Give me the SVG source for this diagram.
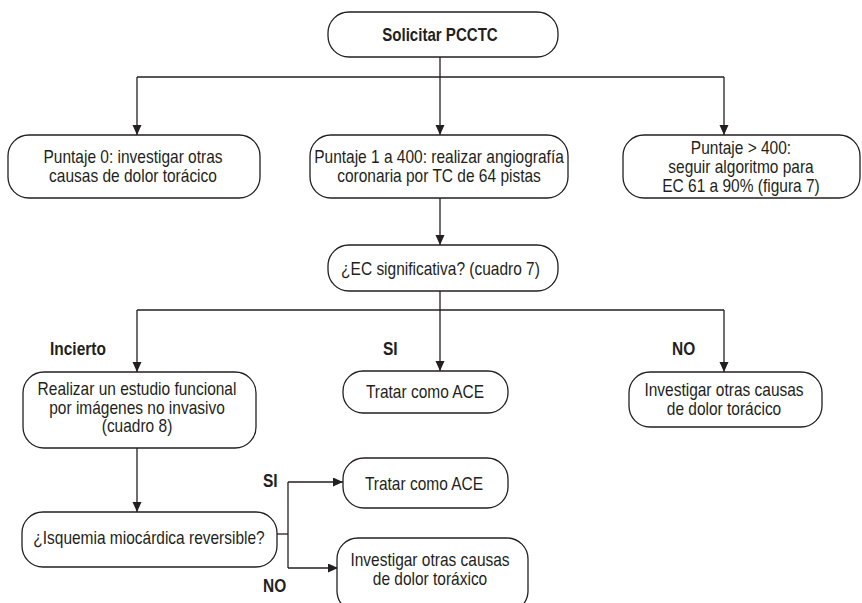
<svg xmlns="http://www.w3.org/2000/svg" width="862" height="603" viewBox="0 0 862 603">
  <style>
    .box { fill: #ffffff; stroke: #231f20; stroke-width: 1.3; }
    .wire { fill: none; stroke: #231f20; stroke-width: 1.3; }
    .t { font-family: "Liberation Sans", Arial, sans-serif; font-size: 19px; fill: #231f20; text-anchor: middle; }
    .b { font-weight: bold; }
    .lbl { font-family: "Liberation Sans", Arial, sans-serif; font-size: 19px; font-weight: bold; fill: #231f20; }
  </style>
  <defs>
    <marker id="arrow" markerUnits="userSpaceOnUse" markerWidth="11" markerHeight="10" refX="10" refY="4.5" orient="auto">
      <path d="M0,0 L10,4.5 L0,9 Z" fill="#231f20"/>
    </marker>
  </defs>
  <rect width="862" height="603" fill="#ffffff"/>

  <!-- connectors -->
  <g id="connectors">
    <line class="wire" x1="440" y1="57" x2="440" y2="135" marker-end="url(#arrow)"/>
    <line class="wire" x1="137" y1="77" x2="724" y2="77"/>
    <line class="wire" x1="137" y1="77" x2="137" y2="135" marker-end="url(#arrow)"/>
    <line class="wire" x1="724" y1="77" x2="724" y2="135" marker-end="url(#arrow)"/>
    <line class="wire" x1="440" y1="198" x2="440" y2="245" marker-end="url(#arrow)"/>
    <line class="wire" x1="440" y1="291" x2="440" y2="371" marker-end="url(#arrow)"/>
    <line class="wire" x1="137" y1="310" x2="724" y2="310"/>
    <line class="wire" x1="137" y1="310" x2="137" y2="372" marker-end="url(#arrow)"/>
    <line class="wire" x1="724" y1="310" x2="724" y2="372" marker-end="url(#arrow)"/>
    <line class="wire" x1="137" y1="448" x2="137" y2="512" marker-end="url(#arrow)"/>
    <line class="wire" x1="277" y1="534" x2="288" y2="534"/>
    <line class="wire" x1="288" y1="482" x2="288" y2="568"/>
    <line class="wire" x1="288" y1="482" x2="343" y2="482" marker-end="url(#arrow)"/>
    <line class="wire" x1="288" y1="568" x2="338" y2="568" marker-end="url(#arrow)"/>
  </g>

  <!-- branch labels -->
  <g id="labels">
    <g transform="translate(50,0) scale(0.815,1)"><text class="lbl" x="0" y="355">Incierto</text></g>
    <g transform="translate(383,0) scale(0.815,1)"><text class="lbl" x="0" y="355">SI</text></g>
    <g transform="translate(672,0) scale(0.815,1)"><text class="lbl" x="0" y="355">NO</text></g>
    <g transform="translate(263,0) scale(0.815,1)"><text class="lbl" x="0" y="487">SI</text></g>
    <g transform="translate(263,0) scale(0.815,1)"><text class="lbl" x="0" y="592">NO</text></g>
  </g>

  <g id="solicitar">
    <rect class="box" x="328" y="12" width="230" height="45" rx="21"/>
    <g transform="translate(440,0) scale(0.815,1)"><text class="t b" x="0" y="41" style="font-size:18.5px">Solicitar PCCTC</text></g>
  </g>

  <g id="puntaje0">
    <rect class="box" x="8" y="135" width="252" height="63" rx="21"/>
    <g transform="translate(133,0) scale(0.815,1)">
      <text class="t" x="0" y="163">Puntaje 0: investigar otras</text>
      <text class="t" x="0" y="182">causas de dolor torácico</text>
    </g>
  </g>

  <g id="puntaje1a400">
    <rect class="box" x="310" y="135" width="258" height="63" rx="21"/>
    <g transform="translate(439,0) scale(0.815,1)">
      <text class="t" x="0" y="163">Puntaje 1 a 400: realizar angiografía</text>
      <text class="t" x="0" y="182">coronaria por TC de 64 pistas</text>
    </g>
  </g>

  <g id="puntajeMas400">
    <rect class="box" x="623" y="135" width="237" height="63" rx="21"/>
    <g transform="translate(741,0) scale(0.815,1)">
      <text class="t" x="0" y="154">Puntaje &gt; 400:</text>
      <text class="t" x="0" y="173">seguir algoritmo para</text>
      <text class="t" x="0" y="192">EC 61 a 90% (figura 7)</text>
    </g>
  </g>

  <g id="ecSignificativa">
    <rect class="box" x="328" y="245" width="230" height="46" rx="21"/>
    <g transform="translate(440.5,0) scale(0.815,1)">
      <text class="t" x="0" y="275">¿EC significativa? (cuadro 7)</text>
    </g>
  </g>

  <g id="estudioFuncional">
    <rect class="box" x="23" y="372" width="233" height="76" rx="21"/>
    <g transform="translate(137,0) scale(0.815,1)">
      <text class="t" x="0" y="395.5">Realizar un estudio funcional</text>
      <text class="t" x="0" y="414">por imágenes no invasivo</text>
      <text class="t" x="0" y="432.5">(cuadro 8)</text>
    </g>
  </g>

  <g id="tratarAce1">
    <rect class="box" x="343" y="371" width="165" height="42" rx="20"/>
    <g transform="translate(425,0) scale(0.815,1)">
      <text class="t" x="0" y="398.5">Tratar como ACE</text>
    </g>
  </g>

  <g id="investigar1">
    <rect class="box" x="629" y="372" width="193" height="55" rx="21"/>
    <g transform="translate(724,0) scale(0.815,1)">
      <text class="t" x="0" y="396">Investigar otras causas</text>
      <text class="t" x="0" y="415">de dolor torácico</text>
    </g>
  </g>

  <g id="isquemia">
    <rect class="box" x="22" y="512" width="255" height="55" rx="21"/>
    <g transform="translate(149,0) scale(0.815,1)">
      <text class="t" x="0" y="544">¿Isquemia miocárdica reversible?</text>
    </g>
  </g>

  <g id="tratarAce2">
    <rect class="box" x="343" y="458" width="165" height="50" rx="21"/>
    <g transform="translate(424,0) scale(0.815,1)">
      <text class="t" x="0" y="490">Tratar como ACE</text>
    </g>
  </g>

  <g id="investigar2">
    <rect class="box" x="337" y="538" width="191" height="74" rx="21"/>
    <g transform="translate(430,0) scale(0.815,1)">
      <text class="t" x="0" y="566">Investigar otras causas</text>
      <text class="t" x="0" y="585">de dolor toráxico</text>
    </g>
  </g>
</svg>
